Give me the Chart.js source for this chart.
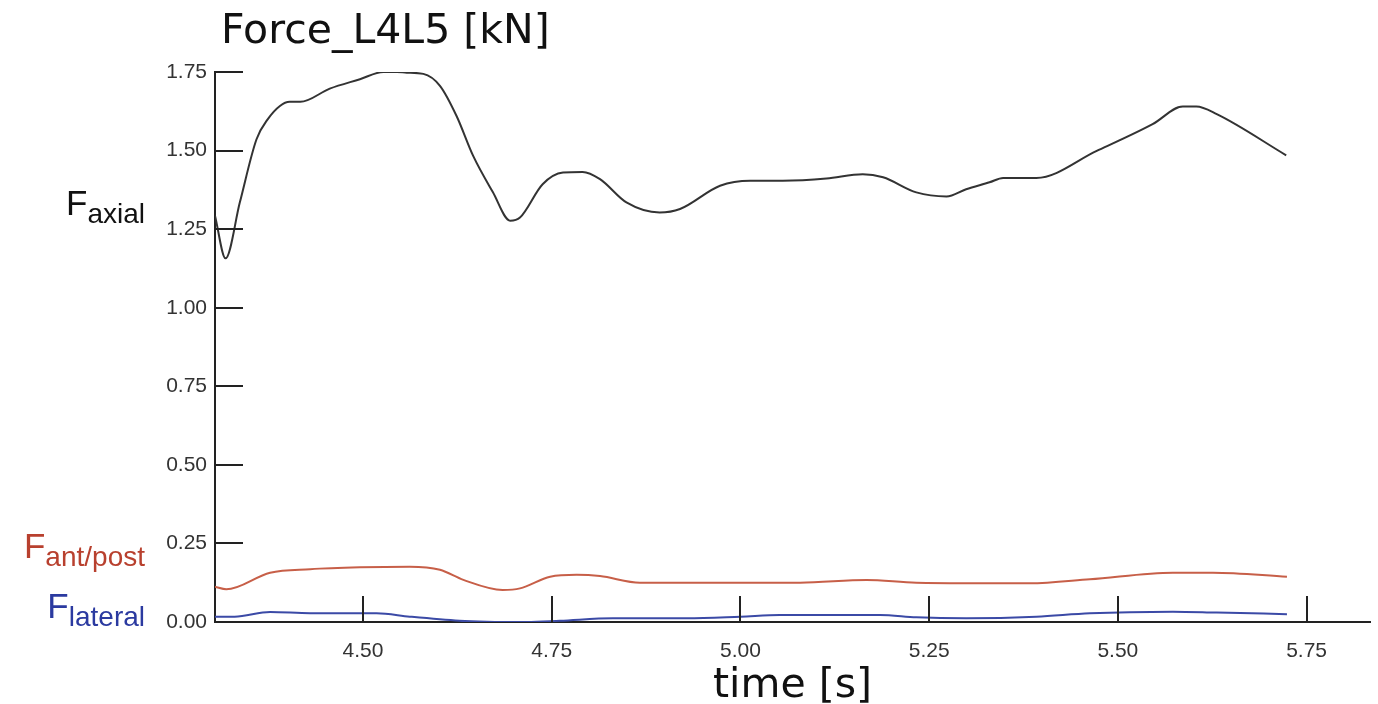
<!DOCTYPE html>
<html>
<head>
<meta charset="utf-8">
<script src="https://cdn.jsdelivr.net/npm/chart.js@4/dist/chart.umd.min.js"></script>
<style>
    body { margin: 0; background: #fff; }
    .wrap { position: relative; width: 1378px; height: 704px; }
    canvas { position: absolute; left: 0; top: 0; }
    .title {
        position: absolute; left: 221px; top: 9px;
        font-family: 'DejaVu Sans', sans-serif; font-size: 41px; line-height: 1;
        color: #111; white-space: nowrap;
    }
    .flabel {
        position: absolute; right: 1233px;
        font-family: 'Liberation Sans', Arial, sans-serif; font-size: 35px; line-height: 1;
        white-space: nowrap;
    }
    .flabel span { font-size: 28px; vertical-align: -8px; }
</style>
</head>
<body>
<div class="wrap">
    <canvas id="forceChart" width="1378" height="704"></canvas>
    <div class="title">Force_L4L5 [kN]</div>
    <div class="flabel" style="top:185px; color:#111;">F<span>axial</span></div>
    <div class="flabel" style="top:528px; color:#b8402e;">F<span>ant/post</span></div>
    <div class="flabel" style="top:588px; color:#2b3aa0;">F<span>lateral</span></div>
</div>
<script>
// values (time in s, force in kN)
const axialTime = [4.304, 4.318, 4.337, 4.359, 4.374, 4.390, 4.403, 4.417, 4.456, 4.496, 4.527, 4.545, 4.558, 4.580, 4.602, 4.624, 4.646, 4.672, 4.695, 4.708, 4.738, 4.765, 4.791, 4.814, 4.849, 4.893, 4.920, 4.973, 5.013, 5.056, 5.114, 5.162, 5.189, 5.233, 5.273, 5.299, 5.330, 5.348, 5.392, 5.472, 5.546, 5.586, 5.604, 5.631, 5.723];
const axialForce = [1.293, 1.157, 1.336, 1.536, 1.600, 1.642, 1.655, 1.655, 1.697, 1.727, 1.750, 1.750, 1.748, 1.744, 1.706, 1.610, 1.483, 1.368, 1.277, 1.287, 1.393, 1.430, 1.432, 1.409, 1.335, 1.303, 1.314, 1.388, 1.404, 1.404, 1.411, 1.425, 1.415, 1.367, 1.354, 1.377, 1.399, 1.413, 1.413, 1.499, 1.584, 1.640, 1.640, 1.616, 1.485];

const antTime = [4.304, 4.319, 4.377, 4.430, 4.496, 4.562, 4.602, 4.633, 4.685, 4.708, 4.748, 4.783, 4.814, 4.867, 4.990, 5.079, 5.167, 5.233, 5.383, 5.463, 5.573, 5.626, 5.724];
const antForce = [0.112, 0.104, 0.157, 0.168, 0.174, 0.176, 0.166, 0.134, 0.102, 0.107, 0.144, 0.150, 0.146, 0.125, 0.125, 0.125, 0.134, 0.125, 0.123, 0.136, 0.157, 0.157, 0.144];

const latTime = [4.304, 4.330, 4.377, 4.430, 4.518, 4.562, 4.628, 4.664, 4.717, 4.761, 4.831, 4.929, 5.000, 5.052, 5.185, 5.233, 5.299, 5.392, 5.463, 5.573, 5.631, 5.724];
const latForce = [0.017, 0.017, 0.032, 0.028, 0.028, 0.017, 0.004, 0.001, 0.000, 0.004, 0.012, 0.012, 0.017, 0.022, 0.022, 0.015, 0.012, 0.017, 0.028, 0.033, 0.030, 0.025];

const timeMin = 4.304;
const timeMax = 5.834;
const forceMin = 0;
const forceMax = 1.75;
const tickStep = 0.25;

function toPoints(xs, ys) {
    return xs.map((x, i) => ({ x: x, y: ys[i] }));
}

function lineSet(xs, ys, color) {
    return {
        data: toPoints(xs, ys),
        borderColor: color,
        borderWidth: 2,
        pointRadius: 0,
        cubicInterpolationMode: 'monotone',
        fill: false
    };
}

// tick marks pointing into the plot, like the original
const innerTicks = {
    id: 'innerTicks',
    afterDatasetsDraw(chart) {
        const ctx = chart.ctx;
        const area = chart.chartArea;
        const xs = chart.scales.x;
        const ys = chart.scales.y;
        ctx.save();
        ctx.strokeStyle = '#222';
        ctx.lineWidth = 2;
        ctx.beginPath();
        ys.ticks.forEach(t => {
            const py = Math.round(ys.getPixelForValue(t.value));
            ctx.moveTo(area.left, py);
            ctx.lineTo(area.left + 28, py);
        });
        xs.ticks.forEach(t => {
            const px = Math.round(xs.getPixelForValue(t.value));
            ctx.moveTo(px, area.bottom);
            ctx.lineTo(px, area.bottom - 26);
        });
        ctx.stroke();
        ctx.restore();
    }
};

const tickFont = { family: "'Liberation Sans', Arial, sans-serif", size: 21 };

const ctx = document.getElementById('forceChart').getContext('2d');
const forceChart = new Chart(ctx, {
    type: 'line',
    data: {
        datasets: [
            lineSet(axialTime, axialForce, '#333333'),
            lineSet(antTime, antForce, '#c75f48'),
            lineSet(latTime, latForce, '#3b4aa6')
        ]
    },
    options: {
        responsive: false,
        animation: false,
        layout: { padding: { top: 72, right: 8, bottom: 0, left: 0 } },
        plugins: {
            legend: { display: false },
            tooltip: { enabled: false }
        },
        scales: {
            x: {
                type: 'linear',
                min: timeMin,
                max: timeMax,
                afterFit: scale => { scale.height = 82; },
                grid: { display: false, drawTicks: false },
                border: { display: true, color: '#222', width: 2 },
                ticks: {
                    stepSize: tickStep,
                    includeBounds: false,
                    padding: 17,
                    color: '#333',
                    font: tickFont,
                    callback: v => Number(v).toFixed(2)
                },
                title: {
                    display: true,
                    text: 'time [s]',
                    color: '#111',
                    padding: { top: 0, bottom: -3 },
                    font: { family: "'DejaVu Sans', sans-serif", size: 41, lineHeight: 1 }
                }
            },
            y: {
                min: forceMin,
                max: forceMax,
                afterFit: scale => { scale.width = 215; },
                grid: { display: false, drawTicks: false },
                border: { display: true, color: '#222', width: 2 },
                ticks: {
                    stepSize: tickStep,
                    padding: 8,
                    color: '#333',
                    font: tickFont,
                    callback: v => Number(v).toFixed(2)
                }
            }
        }
    },
    plugins: [innerTicks]
});
</script>
</body>
</html>
